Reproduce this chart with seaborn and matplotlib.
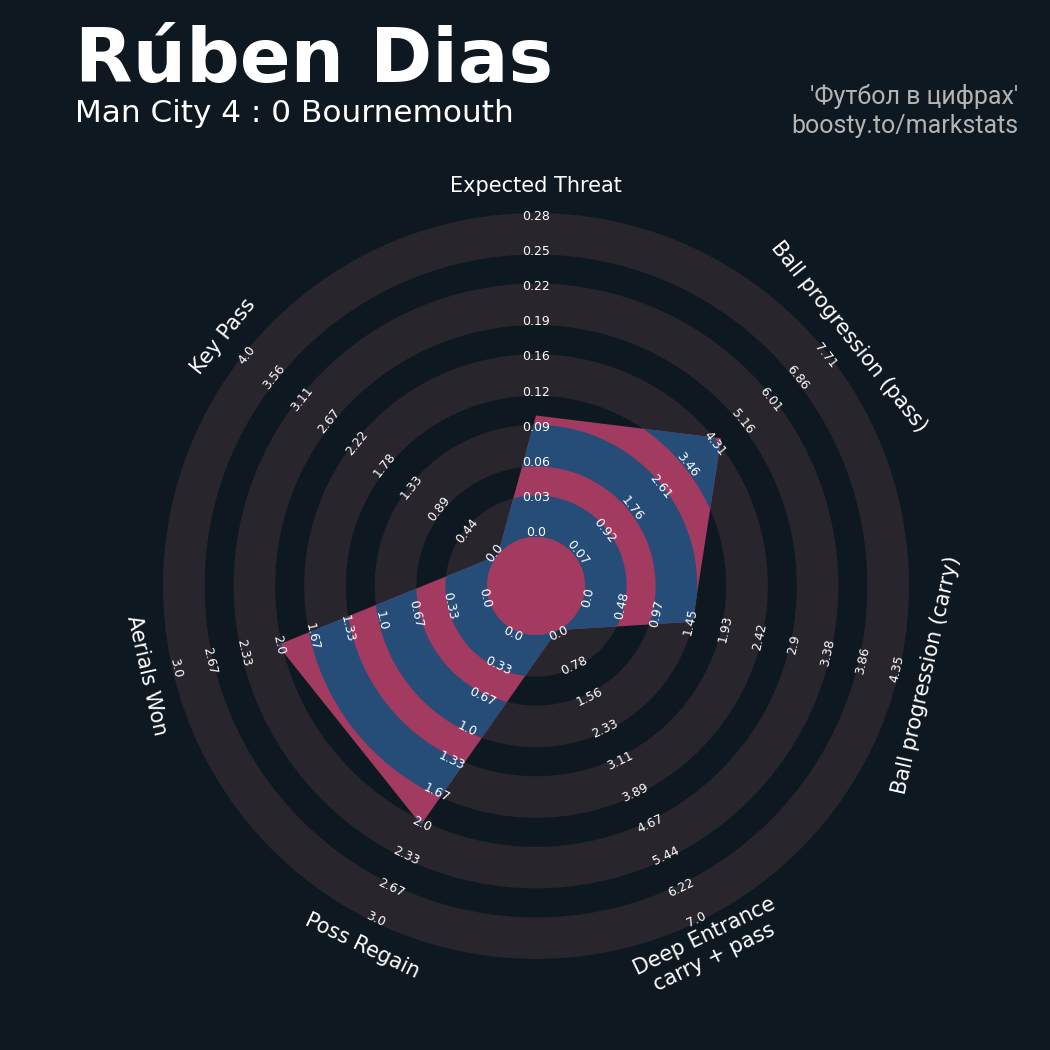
import numpy as np
import matplotlib
matplotlib.use("Agg")
import matplotlib.pyplot as plt
from matplotlib.patches import Wedge, Circle, Polygon
import seaborn as sns

# radar data
params = ["Expected Threat", "Ball progression (pass)", "Ball progression (carry)",
          "Deep Entrance\ncarry + pass", "Poss Regain", "Aerials Won", "Key Pass"]
low = [0.0, 0.07, 0.0, 0.0, 0.0, 0.0, 0.0]
high = [0.28, 7.71, 4.35, 7.0, 3.0, 3.0, 4.0]
values = [0.105, 4.5, 1.5, 0.0, 2.0, 2.0, 0.0]

tick_labels = [
    ["0.0", "0.03", "0.06", "0.09", "0.12", "0.16", "0.19", "0.22", "0.25", "0.28"],
    ["0.07", "0.92", "1.76", "2.61", "3.46", "4.31", "5.16", "6.01", "6.86", "7.71"],
    ["0.0", "0.48", "0.97", "1.45", "1.93", "2.42", "2.9", "3.38", "3.86", "4.35"],
    ["0.0", "0.78", "1.56", "2.33", "3.11", "3.89", "4.67", "5.44", "6.22", "7.0"],
    ["0.0", "0.33", "0.67", "1.0", "1.33", "1.67", "2.0", "2.33", "2.67", "3.0"],
    ["0.0", "0.33", "0.67", "1.0", "1.33", "1.67", "2.0", "2.33", "2.67", "3.0"],
    ["0.0", "0.44", "0.89", "1.33", "1.78", "2.22", "2.67", "3.11", "3.56", "4.0"],
]

title = "Rúben Dias"
subtitle = "Man City 4 : 0 Bournemouth"
credit = "'Футбол в цифрах'\nboosty.to/markstats"

# colours
bg = "#0E1820"
ring_col = "#28252C"
blue = "#264C78"
pink = "#A33A60"

sns.set_theme(style="dark", rc={"figure.facecolor": bg, "axes.facecolor": bg})
plt.rcParams["font.family"] = ["DejaVu Sans"]

fig = plt.figure(figsize=(10.5, 10.5), dpi=100)
ax = fig.add_axes([0, 0, 1, 1])
ax.set_xlim(-536, 514)
ax.set_ylim(-464, 586)
ax.set_aspect("equal")
ax.axis("off")

# geometry (in pixels)
r0, ring_w, gap_w = 49, 41.6, 29
r1 = r0 + 5 * ring_w + 4 * gap_w
n = len(params)
angles = np.deg2rad(90 - np.arange(n) * 360 / n)

# background rings
for i in range(5):
    inner = r0 + i * (ring_w + gap_w)
    ax.add_patch(Wedge((0, 0), inner + ring_w, 0, 360, width=ring_w,
                       facecolor=ring_col, edgecolor="none", zorder=1))

# radar polygon
frac = [(v - lo) / (hi - lo) for v, lo, hi in zip(values, low, high)]
rad = r0 + np.array(frac) * (r1 - r0)
verts = np.column_stack([rad * np.cos(angles), rad * np.sin(angles)])
poly = Polygon(verts, closed=True, facecolor=pink, edgecolor="none", zorder=2)
ax.add_patch(poly)
for i in range(5):
    inner = r0 + i * (ring_w + gap_w)
    w = Wedge((0, 0), inner + ring_w, 0, 360, width=ring_w,
              facecolor=blue, edgecolor="none", zorder=3)
    ax.add_patch(w)
    w.set_clip_path(poly)
ax.add_patch(Circle((0, 0), r0, facecolor=pink, edgecolor="none", zorder=4))

# labels
def text_rot(a):
    rot = (np.rad2deg(a) - 90 + 180) % 360 - 180
    if rot > 90:
        rot -= 180
    elif rot < -90:
        rot += 180
    return rot

tick_r = np.linspace(r0 + 4, r1 - 3, 10)
for a, labs, name in zip(angles, tick_labels, params):
    rot = text_rot(a)
    for r, lab in zip(tick_r, labs):
        ax.text(r * np.cos(a), r * np.sin(a), lab, rotation=rot, ha="center",
                va="center", fontsize=9, color="white", zorder=5)
    ax.text(400 * np.cos(a), 400 * np.sin(a), name, rotation=rot, ha="center",
            va="center", fontsize=15, color="white", multialignment="center", zorder=5)

fig.text(75 / 1050, 1 - 82 / 1050, title, fontsize=54, fontweight="bold",
         color="white", va="baseline", ha="left")
fig.text(75 / 1050, 1 - 122 / 1050, subtitle, fontsize=22.4,
         color="white", va="baseline", ha="left")
fig.text(1018 / 1050, 1 - 111 / 1050, credit, fontsize=18, color="#B4B4B4",
         ha="right", va="center", multialignment="right", linespacing=1.25,
         family=["Roboto", "DejaVu Sans"])

fig.savefig("out.png", dpi=100, facecolor=bg)
